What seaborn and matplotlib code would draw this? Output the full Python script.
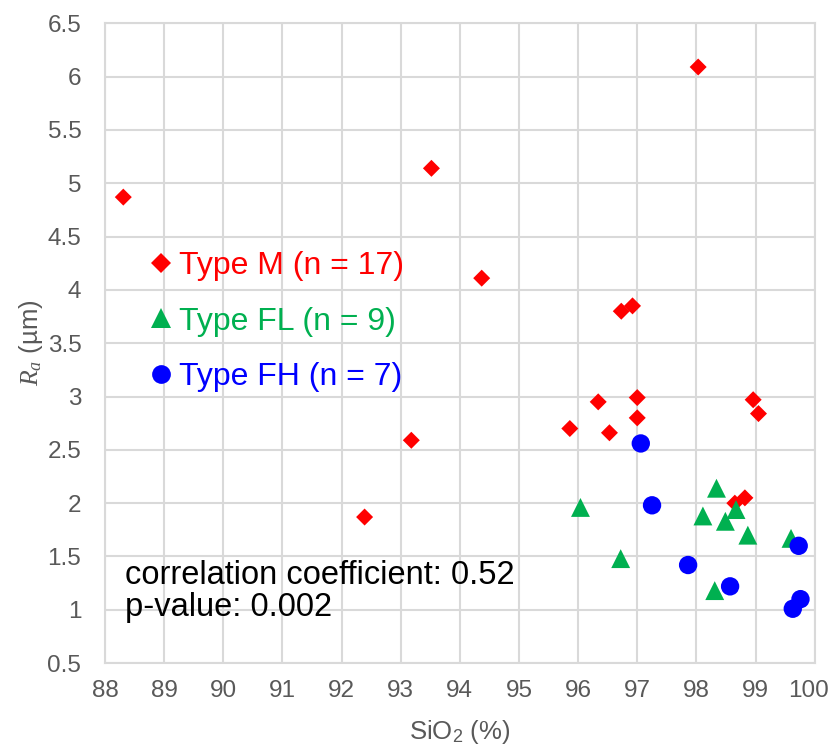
import matplotlib
matplotlib.use("Agg")
import matplotlib.pyplot as plt
from matplotlib.lines import Line2D
from matplotlib.ticker import FuncFormatter, MultipleLocator, FixedLocator
from matplotlib.transforms import ScaledTranslation
import seaborn as sns
import pandas as pd

# ---- data ----
m_sio2 = [88.31, 93.52, 98.03, 94.37, 92.39, 93.18, 95.86, 96.34, 96.53, 96.73,
          96.92, 97.00, 97.00, 98.96, 99.05, 98.65, 98.82]
m_ra = [4.87, 5.14, 6.09, 4.11, 1.87, 2.59, 2.70, 2.95, 2.66, 3.80,
        3.85, 2.99, 2.80, 2.97, 2.84, 2.00, 2.05]

fl_sio2 = [96.04, 96.72, 98.34, 98.11, 98.67, 98.49, 98.87, 99.60, 98.31]
fl_ra = [1.96, 1.48, 2.14, 1.88, 1.94, 1.83, 1.70, 1.67, 1.18]

fh_sio2 = [97.06, 97.25, 97.86, 98.57, 99.73, 99.76, 99.63]
fh_ra = [2.56, 1.98, 1.42, 1.22, 1.60, 1.10, 1.01]

x_ticks = [88, 89, 90, 91, 92, 93, 94, 95, 96, 97, 98, 99, 100]

labels = ["Type M (n = 17)", "Type FL (n = 9)", "Type FH (n = 7)"]
colors = ["#FF0000", "#00B050", "#0000FF"]
markers = ["D", "^", "o"]
sizes = [75, 185, 175]
stats_text = "correlation coefficient: 0.52\np-value: 0.002"

# ---- style ----
sns.set_theme(style="white")
plt.rcParams["font.family"] = ["Liberation Sans", "DejaVu Sans"]
plt.rcParams["mathtext.fontset"] = "custom"
plt.rcParams["mathtext.rm"] = "Liberation Sans"
plt.rcParams["mathtext.it"] = "Liberation Serif:italic"

fig = plt.figure(figsize=(8.33, 7.51), dpi=100)
ax = fig.add_axes([0.126, 0.117, 0.852, 0.852])

groups = [(m_sio2, m_ra), (fl_sio2, fl_ra), (fh_sio2, fh_ra)]
for (xs, ys), lab, col, mk, sz in zip(groups, labels, colors, markers, sizes):
    df = pd.DataFrame({"SiO2": xs, "Ra": ys})
    sns.scatterplot(data=df, x="SiO2", y="Ra", ax=ax, color=col, marker=mk,
                    s=sz, edgecolor="none", linewidth=0, zorder=3)

ax.set_xlim(88, 100)
ax.set_ylim(0.5, 6.5)
ax.xaxis.set_major_locator(FixedLocator(x_ticks))
ax.yaxis.set_major_locator(MultipleLocator(0.5))
ax.yaxis.set_major_formatter(FuncFormatter(lambda v, p: f"{v:g}"))
ax.grid(True, color="#D9D9D9", linewidth=1.5, zorder=0)
ax.set_axisbelow(True)
for sp in ax.spines.values():
    sp.set_color("#D9D9D9")
    sp.set_linewidth(1.5)
ax.tick_params(axis="both", length=0, labelsize=17.5, colors="#595959")
ax.tick_params(axis="x", pad=12)
ax.tick_params(axis="y", pad=17)

ax.set_xlabel(r"SiO$_2$ (%)", fontsize=18.5, color="#595959", labelpad=12)
ax.set_ylabel(r"$R_a$ (µm)", fontsize=18.5, color="#595959", labelpad=2)

handles = [Line2D([], [], linestyle="none", marker=mk, color=col,
                  markersize=ms, markeredgewidth=0)
           for mk, col, ms in zip(markers, colors, [10, 14, 13.5])]
leg = ax.legend(handles, labels, loc="upper left", bbox_to_anchor=(0.048, 0.664),
                frameon=False, fontsize=23, handlelength=0.6, handletextpad=0.25,
                labelspacing=0.8, borderaxespad=0)
for t, c in zip(leg.get_texts(), colors):
    t.set_color(c)

ax.text(0.028, 0.062, stats_text, transform=ax.transAxes, fontsize=23.5,
        color="black", ha="left", va="bottom", linespacing=1.06)

# keep the last x tick label inside the figure (as in the reference)
fig.canvas.draw()
for tick in ax.xaxis.get_major_ticks():
    if tick.label1.get_text() == "100":
        lab = tick.label1
        lab.set_transform(lab.get_transform() +
                          ScaledTranslation(-6 / 100, 0, fig.dpi_scale_trans))

fig.savefig("out.png", dpi=100)
